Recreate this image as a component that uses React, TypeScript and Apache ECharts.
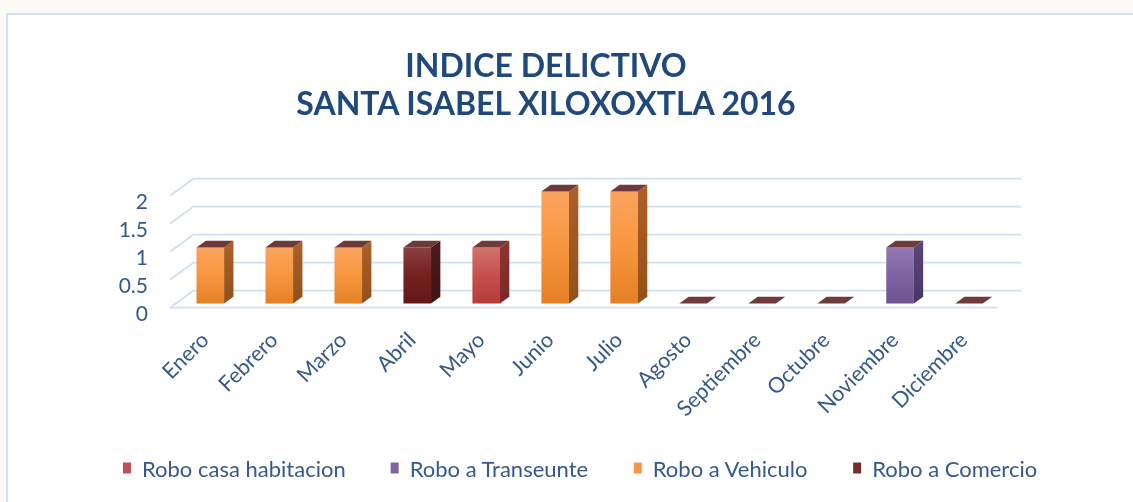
import React, { useEffect, useRef } from "react";
import * as echarts from "echarts";

const months = ["Enero", "Febrero", "Marzo", "Abril", "Mayo", "Junio", "Julio", "Agosto", "Septiembre", "Octubre", "Noviembre", "Diciembre"];
const seriesNames = ["Robo casa habitacion", "Robo a Transeunte", "Robo a Vehiculo", "Robo a Comercio"];
const roboCasa = [null, null, null, null, 1, null, null, null, null, null, null, null];
const roboTranseunte = [null, null, null, null, null, null, null, null, null, null, 1, null];
const roboVehiculo = [1, 1, 1, null, null, 2, 2, null, null, null, null, null];
const roboComercio = [null, null, null, 1, null, null, null, 0, 0, 0, null, 0];
const yTicks = [0, 0.5, 1, 1.5, 2];

const titleLines = ["INDICE DELICTIVO", "SANTA ISABEL XILOXOXTLA 2016"];

// styling / layout
const FONT = "Lato, 'Open Sans', sans-serif";
const TITLE_COLOR = "#1f497d";
const LABEL_COLOR = "#34598a";
const GRID_COLOR = "#d0dff2";
const TOP_COLOR = "#6e3b3a";
const DX = 23.3;
const DY = -17;
const F1 = 0.25;
const F2 = 0.65;
const BAR_W = 0.4;

type Pal = { legend: string; front: [string, string, string]; side: [string, string] };
const palettes: Pal[] = [
  { legend: "#c0504d", front: ["#d4716e", "#c4504d", "#b63b39"], side: ["#8e3533", "#7a2826"] },
  { legend: "#8064a2", front: ["#9479b3", "#8063a2", "#6e5391"], side: ["#5a4678", "#483766"] },
  { legend: "#f79646", front: ["#fba45e", "#f7963f", "#e57f25"], side: ["#ad6128", "#92501c"] },
  { legend: "#772c2a", front: ["#8a4040", "#74201f", "#611918"], side: ["#4d1b1a", "#3d1312"] },
];
const seriesData = [roboCasa, roboTranseunte, roboVehiculo, roboComercio];

function barRenderer(pal: Pal) {
  return (params: any, api: any) => {
    const idx = api.value(0);
    const v = api.value(1);
    const base = api.coord([idx, 0]);
    const top = api.coord([idx, v]);
    const band = api.size([1, 0])[0];
    const bw = band * BAR_W;
    const x = base[0] + DX * F1 - bw / 2;
    const yb = base[1] + DY * F1;
    const yt = top[1] + DY * F1;
    const dx = DX * (F2 - F1);
    const dy = DY * (F2 - F1);
    const children: any[] = [];
    if (yb - yt > 0.5) {
      children.push({
        type: "rect",
        shape: { x, y: yt, width: bw, height: yb - yt },
        style: {
          fill: new echarts.graphic.LinearGradient(0, 0, 0, 1, [
            { offset: 0, color: pal.front[0] },
            { offset: 0.5, color: pal.front[1] },
            { offset: 1, color: pal.front[2] },
          ]),
        },
      });
      children.push({
        type: "polygon",
        shape: { points: [[x + bw, yt], [x + bw + dx, yt + dy], [x + bw + dx, yb + dy], [x + bw, yb]] },
        style: {
          fill: new echarts.graphic.LinearGradient(0, 0, 0, 1, [
            { offset: 0, color: pal.side[0] },
            { offset: 1, color: pal.side[1] },
          ]),
        },
      });
    }
    children.push({
      type: "polygon",
      shape: { points: [[x, yt], [x + dx, yt + dy], [x + bw + dx, yt + dy], [x + bw, yt]] },
      style: { fill: TOP_COLOR },
    });
    return { type: "group", children };
  };
}

function frameRenderer(params: any, api: any) {
  const cs = params.coordSys;
  const v = api.value(1);
  const y = api.coord([0, v])[1];
  const x0 = cs.x;
  const x1 = cs.x + cs.width;
  const children: any[] = [
    {
      type: "polyline",
      shape: { points: [[x0, y], [x0 + DX, y + DY], [x1 + DX, y + DY]] },
      style: { stroke: GRID_COLOR, lineWidth: 1.8, fill: null },
    },
  ];
  if (v === 0) {
    children.push({
      type: "line",
      shape: { x1: x0, y1: y, x2: x1, y2: y },
      style: { stroke: GRID_COLOR, lineWidth: 1.8 },
    });
  }
  return { type: "group", children };
}

export default function App() {
  const ref = useRef<HTMLDivElement>(null);
  useEffect(() => {
    if (!ref.current) return;
    const chart = echarts.init(ref.current, undefined, { renderer: "svg" });
    const barSeries = seriesNames.map((name, i) => ({
      type: "custom",
      name,
      coordinateSystem: "cartesian2d",
      itemStyle: { color: palettes[i].legend },
      encode: { x: 0, y: 1 },
      data: seriesData[i]
        .map((v, idx) => (v === null ? null : [idx, v]))
        .filter((d) => d !== null),
      renderItem: barRenderer(palettes[i]),
      z: 3,
    }));
    chart.setOption({
      animation: false,
      textStyle: { fontFamily: FONT },
      graphic: [
        { type: "rect", z: -10, silent: true, shape: { x: 0, y: 0, width: 1133, height: 502 }, style: { fill: "#fbfaf7" } },
        { type: "rect", z: -9, silent: true, shape: { x: 6, y: 13, width: 1127, height: 489 }, style: { fill: "#d3e1f3" } },
        { type: "rect", z: -8, silent: true, shape: { x: 8, y: 15, width: 1125, height: 487 }, style: { fill: "#ffffff" } },
      ],
      title: {
        text: titleLines.join("\n"),
        left: 541,
        top: 40,
        textAlign: "center",
        textStyle: { fontFamily: FONT, fontSize: 32, fontWeight: "bold", color: TITLE_COLOR, lineHeight: 38 },
      },
      legend: {
        data: seriesNames,
        left: 118,
        top: 452,
        icon: "rect",
        itemWidth: 8,
        itemHeight: 11,
        itemGap: 45,
        textStyle: { fontFamily: FONT, fontSize: 22, color: LABEL_COLOR, padding: [0, 0, 0, 6] },
      },
      grid: { left: 170, right: 135.3, top: 195.7, bottom: 194.3 },
      xAxis: {
        type: "category",
        data: months,
        boundaryGap: true,
        axisLine: { show: false },
        axisTick: { show: false },
        splitLine: { show: false },
        axisLabel: { rotate: 45, margin: 28, fontSize: 21.5, color: LABEL_COLOR, fontFamily: FONT, interval: 0 },
      },
      yAxis: {
        type: "value",
        min: 0,
        max: 2,
        interval: 0.5,
        axisLine: { show: false },
        axisTick: { show: false },
        splitLine: { show: false },
        axisLabel: { margin: 22, fontSize: 21, color: LABEL_COLOR, fontFamily: FONT, verticalAlign: "top", lineHeight: 9 },
      },
      series: [
        {
          type: "custom",
          name: "grid3d",
          silent: true,
          coordinateSystem: "cartesian2d",
          encode: { x: 0, y: 1 },
          data: yTicks.map((v) => [0, v]),
          renderItem: frameRenderer,
          z: 1,
        },
        ...barSeries,
      ],
    });
    return () => chart.dispose();
  }, []);
  return <div ref={ref} style={{ position: "fixed", left: 0, top: 0, width: 1133, height: 502 }} />;
}
